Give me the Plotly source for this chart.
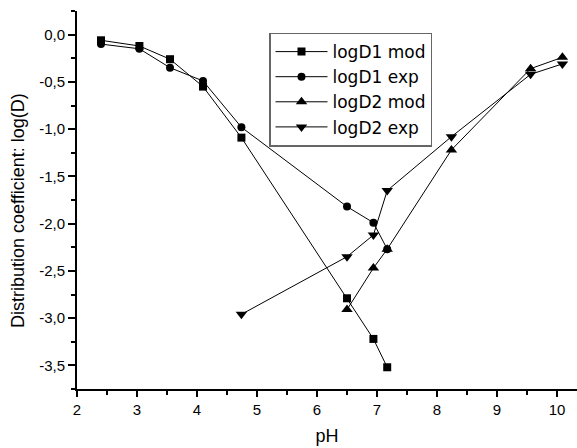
import plotly.graph_objects as go

# Data
ph_d1 = [2.4, 3.04, 3.55, 4.1, 4.74, 6.5, 6.94, 7.17]
logd1_mod = [-0.06, -0.12, -0.26, -0.55, -1.09, -2.79, -3.22, -3.52]
logd1_exp = [-0.10, -0.15, -0.35, -0.49, -0.98, -1.82, -1.99, -2.27]
ph_d2_mod = [6.5, 6.94, 7.17, 8.24, 9.56, 10.09]
logd2_mod = [-2.91, -2.47, -2.27, -1.22, -0.36, -0.24]
ph_d2_exp = [4.74, 6.5, 6.94, 7.17, 8.24, 9.56, 10.09]
logd2_exp = [-2.96, -2.35, -2.12, -1.65, -1.08, -0.42, -0.31]

x_tickvals = [2, 3, 4, 5, 6, 7, 8, 9, 10]
x_ticktext = ["2", "3", "4", "5", "6", "7", "8", "9", "10"]
y_tickvals = [0.0, -0.5, -1.0, -1.5, -2.0, -2.5, -3.0, -3.5]
y_ticktext = ["0,0", "-0,5", "-1,0", "-1,5", "-2,0", "-2,5", "-3,0", "-3,5"]

FONT = "Liberation Sans, Arial, sans-serif"
LEGFONT = "DejaVu Sans, sans-serif"

fig = go.Figure()
series = [
    ("logD1 mod", ph_d1, logd1_mod, "square", 8),
    ("logD1 exp", ph_d1, logd1_exp, "circle", 8),
    ("logD2 mod", ph_d2_mod, logd2_mod, "triangle-up", 10),
    ("logD2 exp", ph_d2_exp, logd2_exp, "triangle-down", 10),
]
for name, xs, ys, sym, sz in series:
    fig.add_trace(go.Scatter(
        x=xs, y=ys, name=name, mode="lines+markers",
        line=dict(color="black", width=1),
        marker=dict(symbol=sym, size=sz, color="black"),
        cliponaxis=False,
    ))

fig.update_layout(
    width=577, height=448,
    margin=dict(l=77, r=0, t=11, b=59, autoexpand=False),
    paper_bgcolor="white", plot_bgcolor="white",
    font=dict(family=FONT, color="black", size=15),
    showlegend=True,
    legend=dict(
        x=0.384, y=0.943, xanchor="left", yanchor="top",
        bordercolor="#666666", borderwidth=1.5, bgcolor="white",
        font=dict(family=LEGFONT, size=17, color="black"),
        tracegroupgap=0, itemwidth=52,
    ),
    xaxis=dict(
        range=[2, 10.333], showgrid=False, zeroline=False,
        showline=True, linecolor="black", linewidth=2,
        ticks="outside", ticklen=6, tickwidth=1.5, tickcolor="black",
        tickvals=x_tickvals, ticktext=x_ticktext,
        tickfont=dict(family=FONT, size=15),
        minor=dict(ticks="outside", ticklen=4, tickwidth=1.5, tickcolor="black", dtick=0.5, tick0=2, showgrid=False),
        title=dict(text="pH", font=dict(family=FONT, size=18), standoff=12),
        automargin=False,
    ),
    yaxis=dict(
        range=[-3.75, 0.25], showgrid=False, zeroline=False,
        showline=True, linecolor="black", linewidth=2,
        ticks="outside", ticklen=7, tickwidth=1.5, tickcolor="black",
        tickvals=y_tickvals, ticktext=y_ticktext,
        tickfont=dict(family=FONT, size=15),
        minor=dict(ticks="outside", ticklen=4, tickwidth=1.5, tickcolor="black", dtick=0.25, tick0=0, showgrid=False),
        automargin=False,
    ),
    annotations=[dict(
        text="Distribution coefficient: log(D)", textangle=-90,
        xref="paper", yref="paper", x=-0.118, y=0.471,
        xanchor="center", yanchor="middle", showarrow=False,
        font=dict(family=FONT, size=18, color="black"),
    )],
)

fig.write_html(
    "out.html",
    config={"displayModeBar": False},
    post_script="document.body.style.margin='0';document.body.style.padding='0';",
)
